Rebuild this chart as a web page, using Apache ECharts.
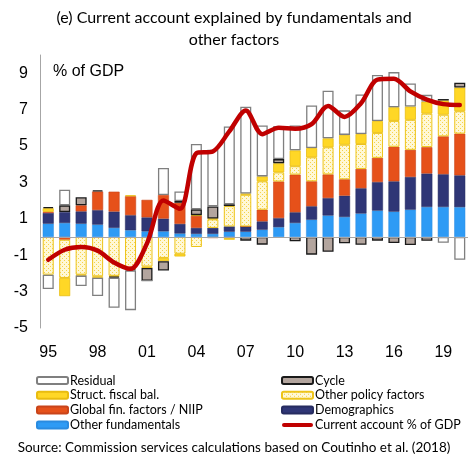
<!DOCTYPE html>
<html><head><meta charset="utf-8">
<script src="https://cdn.jsdelivr.net/npm/echarts@6/dist/echarts.min.js"></script>
<style>html,body{margin:0;padding:0;background:#fff}#c{width:468px;height:461px}</style>
</head><body><div id="c"></div>
<script>
const years = ['95','96','97','98','99','00','01','02','03','04','05','06','07','08','09','10','11','12','13','14','15','16','17','18','19','20'];
const otherFund    = [0.73,0.77,0.73,0.68,0.50,0.37,0.31,0.31,0.19,0.17,0.17,0.29,0.29,0.40,0.54,0.77,0.95,1.18,1.10,1.29,1.45,1.39,1.50,1.65,1.65,1.64];
const demographics = [0.59,0.60,0.68,0.80,0.90,0.83,0.77,0.70,0.53,0.33,0.33,0.29,0.29,0.46,0.50,0.59,0.74,0.96,1.17,1.39,1.57,1.67,1.80,1.84,1.80,1.75];
const globalFin    = [0.06,-0.15,0.33,1.02,1.09,1.04,0.96,1.30,1.16,0.66,-0.06,-0.06,0,0.64,2.01,2.07,1.37,1.30,0.90,1.06,1.33,1.90,1.49,1.45,2.08,2.29];
const otherPolicy  = [-2.07,-2.10,-2.07,-2.16,-2.13,-1.78,-1.62,-1.15,-0.92,-0.55,0.47,1.12,1.74,1.56,0.50,0.46,1.32,1.49,1.90,1.37,1.37,1.42,1.65,1.84,1.19,1.23];
const structFiscal = [0.20,-1.00,-0.05,-0.08,-0.05,0.05,-0.08,-0.18,-0.15,0.04,0.05,-0.09,0.07,0.27,0.50,0.87,0.51,0.49,0.54,0.55,0.65,0.75,0.73,0.66,0.78,1.30];
const cycle        = [0.07,0.37,0.44,0.07,-0.06,-0.06,-0.70,-0.51,0.10,0.32,0.66,0.10,-0.20,-0.42,0.23,-0.24,-0.97,-0.81,-0.35,-0.43,-0.20,-0.33,-0.44,-0.21,0.08,0.27];
const residual     = [-0.79,0.86,-0.57,-1.00,-1.65,-2.18,0,1.48,0.52,3.59,3.11,4.27,4.77,2.80,1.82,1.37,2.34,2.62,1.35,2.17,2.53,1.93,1.27,0.37,-0.32,-1.25];
const currentAccount = [-1.25,-0.70,-0.55,-0.75,-1.40,-1.75,-0.35,2.00,1.55,4.60,4.70,5.80,6.95,5.65,6.00,5.95,6.20,7.20,6.60,7.35,8.65,8.70,8.00,7.55,7.30,7.25];
const yTicks = [-5,-3,-1,1,3,5,7,9];

const pc = document.createElement('canvas');
pc.width = 4; pc.height = 4;
const g = pc.getContext('2d');
g.fillStyle = '#FFF8D6'; g.fillRect(0,0,4,4);
g.fillStyle = '#F5D34A'; g.fillRect(0,0,1,1); g.fillRect(2,2,1,1);
const dotted = {image: pc, repeat: 'repeat'};

const chart = echarts.init(document.getElementById('c'), null, {renderer:'canvas'});
const F = 'Lato, "Open Sans", sans-serif';
const A = '"Liberation Sans", Arial, sans-serif';
function bar(name, data, color, border, bw, extra) {
  return Object.assign({
    name, type:'bar', stack:'a', data, barWidth: 11,
    itemStyle:{color, borderColor:border, borderWidth:bw},
    emphasis:{disabled:true}, animation:false
  }, extra||{});
}
const legendText = {fontFamily:F, fontSize:12.5, color:'#000', padding:[0,0,0,-3]};
chart.setOption({
  animation:false,
  title:{text:'(e) Current account explained by fundamentals and\nother factors', left:'center', top:2,
    textStyle:{fontFamily:F, fontWeight:'normal', fontSize:16, color:'#000', lineHeight:22}},
  grid:{left:40, top:55, width:429, height:273},
  xAxis:{type:'category', data:years, axisLine:{show:false}, axisTick:{show:false},
    axisLabel:{interval:2, margin:17, fontFamily:A, fontSize:16, color:'#000'}},
  yAxis:{type:'value', min:-5, max:10, interval:2, splitLine:{show:false},
    axisLine:{show:true, lineStyle:{color:'#A6A6A6', width:1}}, axisTick:{show:false},
    axisLabel:{showMaxLabel:false, margin:12, fontFamily:A, fontSize:16, color:'#000',
      formatter: v => yTicks.includes(v) ? String(v) : ''}},
  legend:[
    {orient:'vertical', left:31, top:369, itemWidth:31, itemHeight:7, itemGap:1.8,
     data:['Residual','Struct. fiscal bal.','Global fin. factors / NIIP','Other fundamentals'],
     textStyle:legendText, selectedMode:false},
    {orient:'vertical', left:276, top:369, itemWidth:31, itemHeight:7, itemGap:1.8,
     data:['Cycle','Other policy factors','Demographics',
       {name:'Current account % of GDP', icon:'path://M2,0 L29,0 A2,2 0 0 1 29,4 L2,4 A2,2 0 0 1 2,0 Z', itemStyle:{color:'#C00000', borderWidth:0}}],
     textStyle:legendText, selectedMode:false}
  ],
  graphic:[
    {type:'text', left:53, top:64, style:{text:'% of GDP', font:'16px "Liberation Sans", Arial', fill:'#000'}},
    {type:'text', left:'center', top:441, style:{text:'Source: Commission services calculations based on Coutinho et al. (2018)', font:'13.5px Lato', fill:'#000'}}
  ],
  series:[
    bar('Other fundamentals', otherFund, '#2E9BF5', '#2A8BE0', 0.5, {
      markLine:{silent:true, symbol:'none', label:{show:false}, animation:false,
        lineStyle:{color:'#A6A6A6', width:1, type:'solid'}, data:[{yAxis:0}]}}),
    bar('Demographics', demographics, '#2F3676', '#262C60', 0.5),
    bar('Global fin. factors / NIIP', globalFin, '#E6511A', '#C9441A', 0.6),
    bar('Other policy factors', otherPolicy, dotted, '#EDC41A', 1),
    bar('Struct. fiscal bal.', structFiscal, '#FFD726', '#E9BC10', 0.8),
    bar('Cycle', cycle, '#B3A59E', '#1A1A1A', 1.3),
    bar('Residual', residual, '#FFFFFF', '#7F7F7F', 1.3),
    {name:'Current account % of GDP', type:'line', data:currentAccount, symbol:'none', smooth:0.3,
      lineStyle:{color:'#C00000', width:4.5, cap:'round', join:'round'}, itemStyle:{color:'#C00000'}, z:5, animation:false}
  ]
});
</script></body></html>
